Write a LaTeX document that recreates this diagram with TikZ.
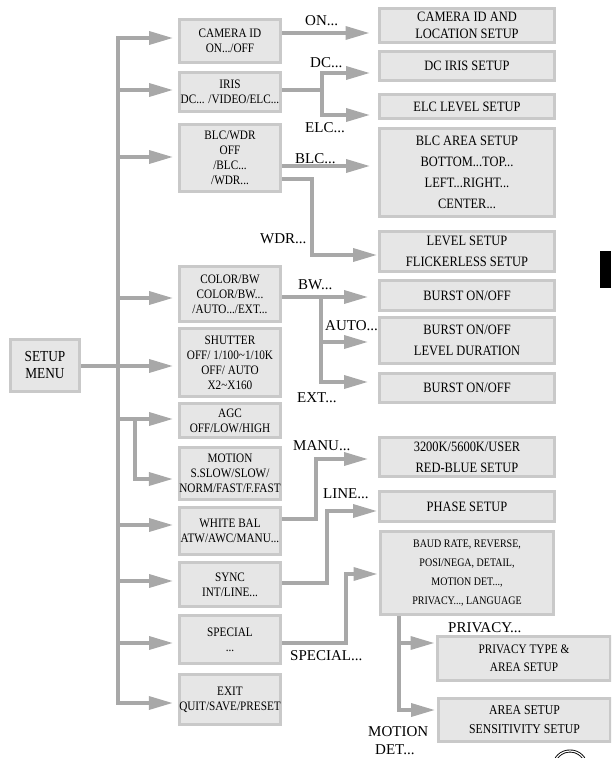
\documentclass[tikz,border=0pt]{standalone}
\usepackage{fontspec}
\setmainfont{Liberation Serif}
\newfontfamily\boxfont[FakeStretch=0.87]{Liberation Serif}
\usetikzlibrary{arrows.meta}
\definecolor{boxfill}{HTML}{E6E6E6}
\definecolor{boxline}{HTML}{C9C9C9}
\definecolor{conncol}{HTML}{A8A8A8}
\tikzset{
  mbox/.style={draw=boxline, line width=3pt, fill=boxfill, align=center, inner sep=0pt},
  lbox/.style={mbox, font=\boxfont\fontsize{12.9}{15}\selectfont},
  rbox/.style={mbox, font=\boxfont\fontsize{14.3}{21}\selectfont},
  lab/.style={font=\fontsize{15}{17}\selectfont, inner sep=0pt, anchor=base west},
  cline/.style={draw=conncol, line width=3.5pt},
  carr/.style={cline, -{Triangle[length=24pt,width=13pt]}},
}
\newcommand\bx[7]{%
  \pgfmathsetmacro\bw{#5-#3-3}\pgfmathsetmacro\bh{#6-#4-3}%
  \pgfmathsetmacro\cx{(#3+#5)/2}\pgfmathsetmacro\cy{(#4+#6)/2}%
  \node[#1, minimum width=\bw pt, minimum height=\bh pt] (#2) at (\cx,\cy) {#7};}
\begin{document}
\begin{tikzpicture}[x=1pt,y=-1pt]
\useasboundingbox (0,0) rectangle (611,758);
\clip (0,0) rectangle (611,758);
% ---------- left column boxes
\bx{mbox,font=\boxfont\fontsize{15.3}{17}\selectfont}{setup}{9}{338}{81}{393}{SETUP\\MENU}
\bx{lbox}{cam}{178}{18}{282}{64}{CAMERA ID\\ON.../OFF}
\bx{lbox}{iris}{178}{71}{282}{113}{IRIS\\DC... /VIDEO/ELC...}
\bx{lbox}{blcwdr}{178}{123}{282}{193}{BLC/WDR\\OFF\\/BLC...\\/WDR...}
\bx{lbox}{colorbw}{178}{265}{282}{323}{COLOR/BW\\COLOR/BW...\\/AUTO.../EXT...}
\bx{lbox}{shutter}{178}{327}{282}{398}{SHUTTER\\OFF/ 1/100\textasciitilde1/10K\\OFF/ AUTO\\X2\textasciitilde X160}
\bx{lbox}{agc}{178}{402}{282}{439}{AGC\\OFF/LOW/HIGH}
\bx{lbox}{motion}{178}{446}{282}{501}{MOTION\\S.SLOW/SLOW/\\NORM/FAST/F.FAST}
\bx{lbox}{wb}{178}{506}{282}{556}{WHITE BAL\\ATW/AWC/MANU...}
\bx{lbox}{sync}{178}{561}{282}{608}{SYNC\\INT/LINE...}
\bx{lbox}{special}{178}{614}{282}{665}{SPECIAL\\...}
\bx{lbox}{exit}{178}{673}{282}{726}{EXIT\\QUIT/SAVE/PRESET}
% ---------- right column boxes
\bx{rbox,font=\boxfont\fontsize{14.3}{17}\selectfont}{camloc}{378}{7}{556}{44}{CAMERA ID AND\\LOCATION SETUP}
\bx{rbox}{dciris}{378}{50}{556}{82}{DC IRIS SETUP}
\bx{rbox}{elc}{378}{93}{556}{120}{ELC LEVEL SETUP}
\bx{rbox}{blcarea}{378}{127}{556}{218}{BLC AREA SETUP\\BOTTOM...TOP...\\LEFT...RIGHT...\\CENTER...}
\bx{rbox}{level}{378}{230}{556}{273}{LEVEL SETUP\\FLICKERLESS SETUP}
\bx{rbox}{burst1}{378}{279}{556}{312}{BURST ON/OFF}
\bx{rbox}{burst2}{378}{316}{556}{365}{BURST ON/OFF\\LEVEL DURATION}
\bx{rbox}{burst3}{378}{372}{556}{404}{BURST ON/OFF}
\bx{rbox}{wbset}{378}{436}{556}{478}{3200K/5600K/USER\\RED-BLUE SETUP}
\bx{rbox}{phase}{378}{490}{556}{523}{PHASE SETUP}
\bx{mbox,font=\boxfont\fontsize{11.5}{19}\selectfont}{baud}{379}{530}{555}{616}{BAUD RATE, REVERSE,\\POSI/NEGA, DETAIL,\\MOTION DET...,\\PRIVACY..., LANGUAGE}
\bx{mbox,font=\boxfont\fontsize{13}{18}\selectfont}{privacy}{436}{635}{612}{682}{PRIVACY TYPE \&\\AREA SETUP}
\bx{mbox,font=\boxfont\fontsize{13.5}{19}\selectfont}{areaset}{437}{697}{612}{743}{AREA SETUP\\SENSITIVITY SETUP}
% ---------- trunk and left connectors
\coordinate (ttop) at (118,38);
\coordinate (tbot) at (118,703);
\draw[carr,shorten >=5pt] (tbot) -- (ttop) -- (ttop -| cam.west);
\draw[carr,shorten >=5pt] ([xshift=-1.75pt]tbot) -- (tbot -| exit.west);
\draw[carr,shorten >=5pt] (setup.east |- 0,366) -- (shutter.west |- 0,366);
\coordinate (b2) at (118,90);
\coordinate (b3) at (118,157);
\coordinate (b4) at (118,298);
\coordinate (b6) at (118,419);
\coordinate (b8) at (118,525);
\coordinate (b9) at (118,581);
\coordinate (b10) at (118,643);
\draw[carr,shorten >=5pt] (b2) -- (b2 -| iris.west);
\draw[carr,shorten >=5pt] (b3) -- (b3 -| blcwdr.west);
\draw[carr,shorten >=5pt] (b4) -- (b4 -| colorbw.west);
\draw[carr,shorten >=5pt] (b6) -- (b6 -| agc.west);
\coordinate (mj) at (135,419);
\draw[carr,shorten >=5pt] (mj) -- (135,479) -- (motion.west |- 0,479);
\draw[carr,shorten >=5pt] (b8) -- (b8 -| wb.west);
\draw[carr,shorten >=5pt] (b9) -- (b9 -| sync.west);
\draw[carr,shorten >=5pt] (b10) -- (b10 -| special.west);
% ---------- right connectors
\draw[carr,shorten >=8.5pt] (cam.east |- 0,33) -- (camloc.west |- 0,33);
\coordinate (ij) at (322,90);
\draw[cline] (iris.east |- ij) -- (ij);
\draw[carr,shorten >=8pt] (322,91) -- (322,73) -- (dciris.west |- 0,73);
\draw[carr,shorten >=8pt] (322,89) -- (322,115) -- (elc.west |- 0,115);
\draw[carr,shorten >=8pt] (blcwdr.east |- 0,166) -- (blcarea.west |- 0,166);
\draw[carr,shorten >=1pt] (blcwdr.east |- 0,179) -| (312,255) -- (level.west |- 0,255);
\coordinate (cj) at (321,297);
\draw[carr,shorten >=10pt] (colorbw.east |- cj) -- (burst1.west |- cj);
\draw[carr,shorten >=10pt] (321,296) -- (321,342) -- (burst2.west |- 0,342);
\draw[carr,shorten >=10pt] (321,340) -- (321,382) -- (burst3.west |- 0,382);
\draw[carr,shorten >=10pt] (wb.east |- 0,519) -| (316,459) -- (wbset.west |- 0,459);
\draw[carr,shorten >=1pt] (sync.east |- 0,583) -| (327,511) -- (phase.west |- 0,511);
\draw[carr,shorten >=1.5pt] (special.east |- 0,643) -| (346,574) -- (baud.west |- 0,574);
\coordinate (pj) at (399,616);
\draw[carr,shorten >=1.5pt] (baud.south -| pj) -- (399,643) -- (privacy.west |- 0,643);
\draw[carr,shorten >=2pt] (399,640) -- (399,710) -- (areaset.west |- 0,710);
% ---------- labels
\node[lab] (lon) at (305,25) {ON...};
\node[lab] (ldc) at (310,67) {DC...};
\node[lab] (lelc) at (305,132) {ELC...};
\node[lab] (lblc) at (295,163.5) {BLC...};
\node[lab] (lwdr) at (260,243) {WDR...};
\node[lab] (lbw) at (298,289) {BW...};
\node[lab] (lauto) at (325,330) {AUTO...};
\node[lab] (lext) at (297,402) {EXT...};
\node[lab] (lmanu) at (293,450) {MANU...};
\node[lab] (lline) at (323,498) {LINE...};
\node[lab] (lspecial) at (290,660) {SPECIAL...};
\node[lab] (lprivacy) at (448,632) {PRIVACY...};
\node[lab] (lmotion) at (368,736) {MOTION};
\node[lab] (ldet) at (375,754.5) {DET...};
% ---------- page marks
\fill[black] (600,251) rectangle (611,288);
\draw[line width=0.9pt, double, double distance=1.2pt] (570,766) ellipse [x radius=16pt, y radius=15pt];
\end{tikzpicture}
\end{document}
